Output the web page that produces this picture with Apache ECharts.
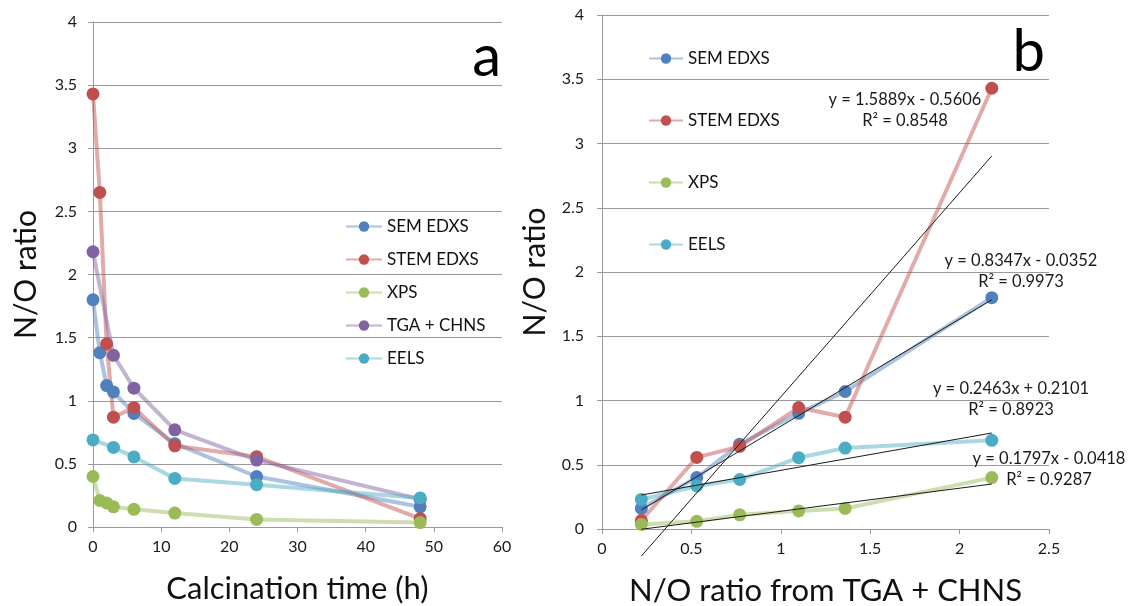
<!DOCTYPE html>
<html>
<head>
<meta charset="utf-8">
<script src="https://cdn.jsdelivr.net/npm/echarts@6/dist/echarts.min.js"></script>
<style>
  html, body { margin: 0; padding: 0; background: #ffffff; }
  #chart { width: 1128px; height: 606px; }
</style>
</head>
<body>
<div id="chart"></div>
<script>
// Calcination time (h) for the EDXS and XPS measurements
const hours = [0, 1, 2, 3, 6, 12, 24, 48];
const semEdxs = [1.80, 1.38, 1.12, 1.07, 0.90, 0.66, 0.40, 0.16];
const stemEdxs = [3.43, 2.65, 1.45, 0.87, 0.945, 0.643, 0.557, 0.066];
const xps = [0.40, 0.21, 0.19, 0.16, 0.14, 0.11, 0.06, 0.035];

// Samples also measured by TGA + CHNS and EELS
const tgaHours = [0, 3, 6, 12, 24, 48];
const tgaChns = [2.18, 1.36, 1.10, 0.77, 0.53, 0.22];
const eels = [0.69, 0.63, 0.555, 0.385, 0.335, 0.23];

// Linear fits against TGA + CHNS: [slope, intercept, R²]
const fitSem = [0.8347, -0.0352, 0.9973];
const fitStem = [1.5889, -0.5606, 0.8548];
const fitEels = [0.2463, 0.2101, 0.8923];
const fitXps = [0.1797, -0.0418, 0.9287];

const xTicksA = { min: 0, max: 60, interval: 10 };
const xTicksB = { min: 0, max: 2.5, interval: 0.5 };
const yTicks = { min: 0, max: 4, interval: 0.5 };

const COLORS = {
  'SEM EDXS': '#4F81BD',
  'STEM EDXS': '#C0504D',
  'XPS': '#9BBB59',
  'TGA + CHNS': '#8064A2',
  'EELS': '#4BACC6'
};

const FONT = 'Lato';
const GRID_GREY = '#9a9a9a';
const TEXT = '#1a1a1a';

function pairs(xs, ys) { return xs.map((x, i) => [x, ys[i]]); }

// value of a time series at the TGA sampling times
function atTgaTimes(values) {
  return tgaHours.map(h => values[hours.indexOf(h)]);
}

function measured(name, data, xIdx) {
  const c = COLORS[name];
  return {
    name: name,
    type: 'line',
    xAxisIndex: xIdx, yAxisIndex: xIdx,
    data: data,
    symbol: 'circle',
    symbolSize: 13,
    itemStyle: { color: c, opacity: 1 },
    lineStyle: { color: c, width: 4, opacity: 0.48 },
    emphasis: { disabled: true },
    animation: false,
    z: 3
  };
}

const xMin = Math.min(...tgaChns), xMax = Math.max(...tgaChns);
function trend(fit) {
  const [a, b] = fit;
  return {
    type: 'line',
    xAxisIndex: 1, yAxisIndex: 1,
    data: [[xMin, a * xMin + b], [xMax, a * xMax + b]],
    symbol: 'none',
    lineStyle: { color: '#1a1a1a', width: 1 },
    clip: false,
    silent: true,
    animation: false,
    z: 4
  };
}

function eqText(fit) {
  const [a, b] = fit;
  return 'y = ' + a.toFixed(4) + 'x ' + (b < 0 ? '- ' : '+ ') + Math.abs(b).toFixed(4);
}
function r2Text(fit) { return 'R² = ' + fit[2].toFixed(4); }

function eqLabel(fit, cx, cy) {
  const st = { fill: TEXT, font: '16.5px ' + FONT, textAlign: 'center', textVerticalAlign: 'middle' };
  return [
    { type: 'text', x: cx, y: cy, style: Object.assign({ text: eqText(fit) }, st), z: 10 },
    { type: 'text', x: cx, y: cy + 21, style: Object.assign({ text: r2Text(fit) }, st), z: 10 }
  ];
}

function valueAxis(ticks, gridIdx, opts) {
  return Object.assign({
    type: 'value',
    gridIndex: gridIdx,
    min: ticks.min, max: ticks.max, interval: ticks.interval,
    axisLine: { show: true, onZero: false, lineStyle: { color: GRID_GREY, width: 1 } },
    axisTick: { show: true, length: 5, lineStyle: { color: GRID_GREY } },
    nameLocation: 'middle'
  }, opts);
}

const tickFont = { color: TEXT, fontFamily: FONT, fontSize: 16 };
const xNameFont = { color: '#111', fontFamily: FONT, fontSize: 31 };
const yNameFont = { color: '#111', fontFamily: FONT, fontSize: 30 };
const legendFont = { color: '#111', fontFamily: FONT, fontSize: 17 };

const chart = echarts.init(document.getElementById('chart'), null, { renderer: 'canvas' });

const option = {
  backgroundColor: '#ffffff',
  animation: false,
  grid: [
    { left: 93, right: 626, top: 22, bottom: 79, outerBoundsMode: 'none' },
    { left: 602, right: 79, top: 15, bottom: 77, outerBoundsMode: 'none' }
  ],
  xAxis: [
    valueAxis(xTicksA, 0, {
      name: 'Calcination time (h)', nameGap: 46, nameTextStyle: xNameFont,
      splitLine: { show: false },
      axisLabel: Object.assign({ margin: 12 }, tickFont)
    }),
    valueAxis(xTicksB, 1, {
      name: 'N/O ratio from TGA + CHNS', nameGap: 46, nameTextStyle: xNameFont,
      splitLine: { show: false },
      axisLabel: Object.assign({ margin: 12, formatter: v => String(v) }, tickFont)
    })
  ],
  yAxis: [
    valueAxis(yTicks, 0, {
      name: 'N/O ratio', nameGap: 52, nameRotate: 90, nameTextStyle: yNameFont,
      splitLine: { show: true, lineStyle: { color: GRID_GREY, width: 1 } },
      axisLabel: Object.assign({ margin: 16 }, tickFont)
    }),
    valueAxis(yTicks, 1, {
      name: 'N/O ratio', nameGap: 52, nameRotate: 90, nameTextStyle: yNameFont,
      splitLine: { show: true, lineStyle: { color: GRID_GREY, width: 1 } },
      axisLabel: Object.assign({ margin: 18 }, tickFont)
    })
  ],
  legend: [
    {
      data: ['SEM EDXS', 'STEM EDXS', 'XPS', 'TGA + CHNS', 'EELS'],
      orient: 'vertical', left: 340, top: 213,
      itemWidth: 36, itemHeight: 13, itemGap: 16,
      textStyle: legendFont,
      selectedMode: false
    },
    {
      data: ['SEM EDXS', 'STEM EDXS', 'XPS', 'EELS'],
      orient: 'vertical', left: 643, top: 45,
      itemWidth: 34, itemHeight: 13, itemGap: 45,
      textStyle: legendFont,
      selectedMode: false
    }
  ],
  series: [
    measured('SEM EDXS', pairs(hours, semEdxs), 0),
    measured('STEM EDXS', pairs(hours, stemEdxs), 0),
    measured('XPS', pairs(hours, xps), 0),
    measured('TGA + CHNS', pairs(tgaHours, tgaChns), 0),
    measured('EELS', pairs(tgaHours, eels), 0),

    measured('SEM EDXS', pairs(tgaChns, atTgaTimes(semEdxs)), 1),
    measured('STEM EDXS', pairs(tgaChns, atTgaTimes(stemEdxs)), 1),
    measured('XPS', pairs(tgaChns, atTgaTimes(xps)), 1),
    measured('EELS', pairs(tgaChns, eels), 1),

    trend(fitSem),
    trend(fitStem),
    trend(fitEels),
    trend(fitXps)
  ],
  graphic: [
    { type: 'text', x: 501, y: 57, style: { text: 'a', fill: '#000', font: '58px ' + FONT, textAlign: 'right', textVerticalAlign: 'middle' }, z: 10 },
    { type: 'text', x: 1045, y: 52, style: { text: 'b', fill: '#000', font: '58px ' + FONT, textAlign: 'right', textVerticalAlign: 'middle' }, z: 10 }
  ].concat(
    eqLabel(fitStem, 905, 100),
    eqLabel(fitSem, 1021, 261),
    eqLabel(fitEels, 1011, 389),
    eqLabel(fitXps, 1049, 459)
  )
};

chart.setOption(option);
</script>
</body>
</html>
